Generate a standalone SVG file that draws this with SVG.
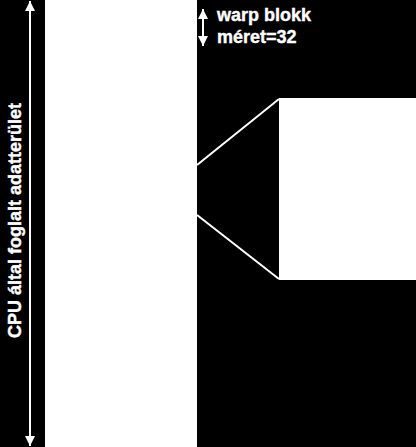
<svg xmlns="http://www.w3.org/2000/svg" width="416" height="447" viewBox="0 0 416 447">
<defs>
<style>
.lbl{font-family:"Liberation Sans",Arial,sans-serif;font-weight:bold;font-size:18px;fill:#fff;stroke:#fff;stroke-width:0.4}
.ln{stroke:#fff;stroke-width:2;fill:none}
</style>
<marker id="ah" viewBox="0 0 10 10" refX="10" refY="5" markerWidth="6" markerHeight="5" markerUnits="strokeWidth" orient="auto-start-reverse">
<path d="M0,0 L10,5 L0,10 z" fill="#fff"/>
</marker>
</defs>
<rect width="416" height="447" fill="#000"/>
<g id="cpu-area">
<rect x="45" y="0" width="152" height="447" fill="#fff"/>
</g>
<g id="warp-block">
<rect x="279" y="98" width="137" height="182" fill="#fff"/>
</g>
<g id="cpu-label">
<text class="lbl" transform="translate(21,220.5) rotate(-90)" text-anchor="middle">CPU által foglalt adatterület</text>
</g>
<g id="warp-label">
<text class="lbl" x="217" y="21">warp blokk</text>
<text class="lbl" x="217" y="43">méret=32</text>
</g>
<g id="connectors">
<line class="ln" x1="30" y1="1" x2="30" y2="446" marker-start="url(#ah)" marker-end="url(#ah)"/>
<line class="ln" x1="203" y1="9" x2="203" y2="46" marker-start="url(#ah)" marker-end="url(#ah)"/>
<line class="ln" x1="197" y1="165" x2="279" y2="99"/>
<line class="ln" x1="197" y1="215" x2="279" y2="279"/>
</g>
</svg>
